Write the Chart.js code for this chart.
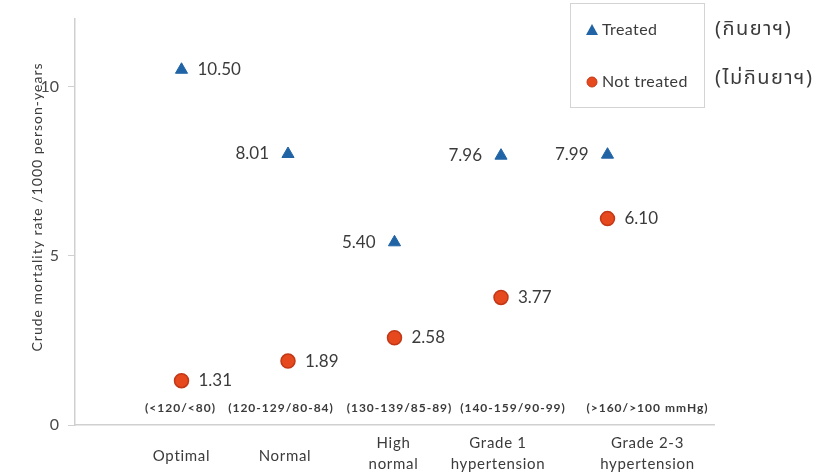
<!DOCTYPE html>
<html lang="en">
<head>
  <meta charset="UTF-8">
  <title>Crude mortality rate by blood pressure group</title>
  <script src="https://cdn.jsdelivr.net/npm/chart.js"></script>
  <style>
    body { margin: 0; background: #fff; }
    #wrap { width: 830px; height: 472px; }
  </style>
</head>
<body>
  <div id="wrap"><canvas id="bpChart" width="830" height="472"></canvas></div>

  <script>
    // data
    const categories = [['Optimal'], ['Normal'], ['High', 'normal'], ['Grade 1', 'hypertension'], ['Grade 2-3', 'hypertension']];
    const bpRanges = ['(<120/<80)', '(120-129/80-84)', '(130-139/85-89)', '(140-159/90-99)', '(>160/>100 mmHg)'];
    const treated = [10.50, 8.01, 5.40, 7.96, 7.99];
    const notTreated = [1.31, 1.89, 2.58, 3.77, 6.10];
    const yTicks = [0, 5, 10];
    // which side the treated value label sits on (1 = right, -1 = left)
    const treatedLabelSide = [1, -1, -1, -1, -1];

    const BLUE = '#2164a6';
    const ORANGE = '#e6491d';
    const ORANGE_EDGE = '#c23817';
    const TEXT = '#3b3b3b';
    const FONT = 'Lato, "Open Sans", sans-serif';
    const THAI_FONT = '"Noto Sans Thai", "Noto Sans", "DejaVu Sans", sans-serif';

    const toPoints = arr => arr.map((v, i) => ({ x: i + 1, y: v }));

    // text boxes under the plot were placed by hand in the original, nudge them the same way
    const rangeShift = [-1, -7, 5, 12, 40];
    const catShift = [0, -3, -1, -3, 40];

    const annotations = {
      id: 'annotations',
      afterDatasetsDraw(chart) {
        const ctx = chart.ctx;
        const xs = chart.scales.x;
        ctx.save();
        ctx.fillStyle = TEXT;
        ctx.textBaseline = 'middle';

        // value labels
        ctx.font = '17px ' + FONT;
        chart.getDatasetMeta(0).data.forEach((pt, i) => {
          const side = treatedLabelSide[i];
          ctx.textAlign = side > 0 ? 'left' : 'right';
          ctx.fillText(treated[i].toFixed(2), pt.x + side * (side > 0 ? 16 : 19), pt.y);
        });
        chart.getDatasetMeta(1).data.forEach((pt, i) => {
          ctx.textAlign = 'left';
          ctx.fillText(notTreated[i].toFixed(2), pt.x + 17, pt.y);
        });

        // blood pressure ranges above the x axis
        ctx.font = 'bold 12px ' + FONT;
        ctx.letterSpacing = '1px';
        ctx.textAlign = 'center';
        bpRanges.forEach((r, i) => {
          ctx.fillText(r, xs.getPixelForValue(i + 1) + rangeShift[i], 408);
        });

        // category names under the axis
        ctx.font = '15px ' + FONT;
        ctx.letterSpacing = '0.7px';
        categories.forEach((lines, i) => {
          const cx = xs.getPixelForValue(i + 1) + catShift[i];
          if (lines.length === 1) {
            ctx.fillText(lines[0], cx, 456);
          } else {
            ctx.fillText(lines[0], cx, 443);
            ctx.fillText(lines[1], cx, 464);
          }
        });

        // y axis title
        ctx.save();
        ctx.translate(37, 207);
        ctx.rotate(-Math.PI / 2);
        ctx.font = '14px ' + FONT;
        ctx.letterSpacing = '1px';
        ctx.textAlign = 'center';
        ctx.fillText('Crude mortality rate /1000 person-years', 0, 0);
        ctx.restore();

        // legend box
        ctx.letterSpacing = '0px';
        ctx.strokeStyle = '#d4d4d4';
        ctx.lineWidth = 1;
        ctx.strokeRect(570.5, 3.5, 134, 104);

        ctx.fillStyle = BLUE;
        ctx.beginPath();
        ctx.moveTo(592, 24);
        ctx.lineTo(598, 35);
        ctx.lineTo(586, 35);
        ctx.closePath();
        ctx.fill();

        ctx.fillStyle = ORANGE;
        ctx.strokeStyle = ORANGE_EDGE;
        ctx.beginPath();
        ctx.arc(592, 82, 5, 0, Math.PI * 2);
        ctx.fill();
        ctx.stroke();

        ctx.fillStyle = TEXT;
        ctx.textAlign = 'left';
        ctx.font = '16px ' + FONT;
        ctx.letterSpacing = '0.4px';
        ctx.fillText('Treated', 602, 30);
        ctx.fillText('Not treated', 602, 82);

        ctx.font = '20px ' + THAI_FONT;
        ctx.letterSpacing = '1.5px';
        ctx.fillText('(กินยาฯ)', 715, 31);
        ctx.fillText('(ไม่กินยาฯ)', 715, 80);

        ctx.restore();
      }
    };

    const ctx = document.getElementById('bpChart').getContext('2d');
    const bpChart = new Chart(ctx, {
      type: 'scatter',
      data: {
        datasets: [
          {
            label: 'Treated',
            data: toPoints(treated),
            pointStyle: 'triangle',
            pointRadius: 7,
            backgroundColor: BLUE,
            borderColor: BLUE,
            borderWidth: 1
          },
          {
            label: 'Not treated',
            data: toPoints(notTreated),
            pointStyle: 'circle',
            pointRadius: 7,
            backgroundColor: ORANGE,
            borderColor: ORANGE_EDGE,
            borderWidth: 1.5
          }
        ]
      },
      options: {
        responsive: false,
        animation: false,
        layout: { padding: { top: 19, right: 116, left: 0, bottom: 0 } },
        plugins: {
          legend: { display: false },
          tooltip: { enabled: false }
        },
        scales: {
          x: {
            type: 'linear',
            min: 0,
            max: 6,
            ticks: { display: false },
            grid: { display: false },
            border: { color: '#d0d0d0', width: 1.5 },
            afterFit: s => { s.height = 47; }
          },
          y: {
            min: 0,
            max: 12,
            afterBuildTicks: s => { s.ticks = yTicks.map(v => ({ value: v })); },
            ticks: {
              color: '#4a4a4a',
              font: { family: FONT, size: 16 },
              padding: 9
            },
            grid: { drawOnChartArea: false, tickLength: 7, color: '#d0d0d0' },
            border: { color: '#d0d0d0', width: 1.5 },
            afterFit: s => { s.width = 75; }
          }
        }
      },
      plugins: [annotations]
    });
  </script>
</body>
</html>
